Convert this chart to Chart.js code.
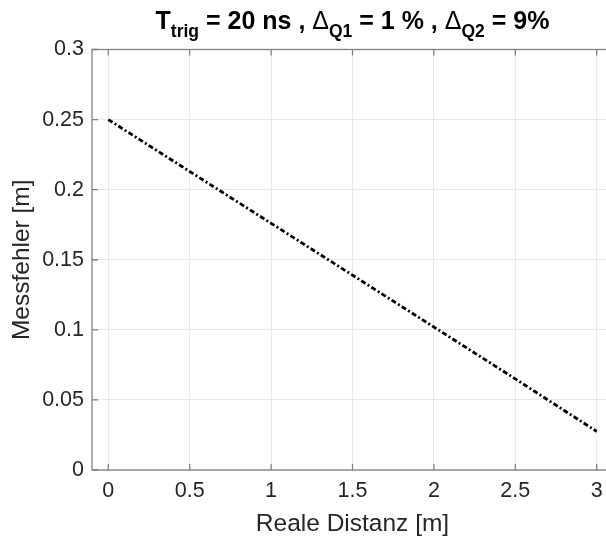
<!DOCTYPE html>
<html>
<head>
<meta charset="utf-8">
<script src="https://cdn.jsdelivr.net/npm/chart.js@4.4.0/dist/chart.umd.min.js"></script>
<style>
  html, body { margin: 0; padding: 0; background: #fff; overflow: hidden; }
  #wrap { position: relative; width: 606px; height: 538px; overflow: hidden; }
  #chart { position: absolute; left: 0; top: 0; }
  #title {
    position: absolute; left: 92px; width: 521px; top: 5px;
    text-align: center; white-space: nowrap;
    font-family: "Liberation Sans", Arial, sans-serif;
    font-weight: bold; font-size: 25px; line-height: 30px; color: #000;
  }
  #title .sub { position: relative; top: 8px; font-size: 17.5px; }
  #title .delta { font-weight: normal; font-size: 25px; }
</style>
</head>
<body>
<div id="wrap">
  <canvas id="chart" width="613" height="538"></canvas>
  <div id="title">T<span class="sub">trig</span> = 20 ns , <span class="delta">Δ</span><span class="sub">Q1</span> = 1 % , <span class="delta">Δ</span><span class="sub">Q2</span> = 9%</div>
</div>
<script>
// Werte
const distanz = [0, 0.5, 1, 1.5, 2, 2.5, 3];
const messfehler = [0.25, 0.213, 0.176, 0.139, 0.102, 0.065, 0.0275];

const xTicks = [0, 0.5, 1, 1.5, 2, 2.5, 3];
const yTicks = [0, 0.05, 0.1, 0.15, 0.2, 0.25, 0.3];

const axisColor = '#808080';
const textColor = '#262626';
const fontFamily = '"Liberation Sans", Arial, sans-serif';

Chart.defaults.font.family = fontFamily;

// Rahmen auf allen vier Seiten und nach innen zeigende Ticks (wie in MATLAB)
const boxTicks = {
  id: 'boxTicks',
  afterDraw(chart) {
    const ctx = chart.ctx;
    const a = chart.chartArea;
    const xs = chart.scales.x;
    const ys = chart.scales.y;
    const len = 6;
    ctx.save();
    ctx.strokeStyle = axisColor;
    ctx.lineWidth = 1.3;
    ctx.strokeRect(a.left, a.top, a.right - a.left, a.bottom - a.top);
    ctx.beginPath();
    xTicks.forEach(v => {
      const px = xs.getPixelForValue(v);
      ctx.moveTo(px, a.bottom); ctx.lineTo(px, a.bottom - len);
      ctx.moveTo(px, a.top); ctx.lineTo(px, a.top + len);
    });
    yTicks.forEach(v => {
      const py = ys.getPixelForValue(v);
      ctx.moveTo(a.left, py); ctx.lineTo(a.left + len, py);
      ctx.moveTo(a.right, py); ctx.lineTo(a.right - len, py);
    });
    ctx.stroke();
    ctx.restore();
  }
};

new Chart(document.getElementById('chart'), {
  type: 'line',
  data: {
    datasets: [{
      data: distanz.map((d, i) => ({ x: d, y: messfehler[i] })),
      borderColor: '#000',
      borderWidth: 2.8,
      borderDash: [5, 2.5, 2, 2.5],
      borderCapStyle: 'butt',
      pointRadius: 0,
      fill: false,
      tension: 0
    }]
  },
  options: {
    responsive: false,
    animation: false,
    layout: { padding: { top: 49.5, left: 0, right: 0, bottom: 0 } },
    plugins: {
      legend: { display: false },
      tooltip: { enabled: false }
    },
    scales: {
      x: {
        type: 'linear',
        min: -0.1,
        max: 3.1,
        afterBuildTicks: s => { s.ticks = xTicks.map(v => ({ value: v })); },
        afterFit: s => { s.height = 68; },
        ticks: {
          callback: v => String(v),
          font: { size: 21.5 },
          color: textColor,
          padding: 8,
          maxRotation: 0,
          autoSkip: false
        },
        grid: { color: '#e8e8e8', drawTicks: false },
        border: { display: false },
        title: {
          display: true,
          text: 'Reale Distanz [m]',
          font: { size: 24.5, lineHeight: 1.1 },
          color: textColor,
          padding: { top: 0, bottom: 0 }
        }
      },
      y: {
        type: 'linear',
        min: 0,
        max: 0.3,
        afterBuildTicks: s => { s.ticks = yTicks.map(v => ({ value: v })); },
        afterFit: s => { s.width = 92; },
        ticks: {
          callback: v => String(v),
          font: { size: 21.5 },
          color: textColor,
          padding: 8,
          autoSkip: false
        },
        grid: { color: '#e8e8e8', drawTicks: false },
        border: { display: false },
        title: {
          display: true,
          text: 'Messfehler [m]',
          font: { size: 24.5 },
          color: textColor,
          padding: { top: 8, bottom: 0 }
        }
      }
    }
  },
  plugins: [boxTicks]
});
</script>
</body>
</html>
